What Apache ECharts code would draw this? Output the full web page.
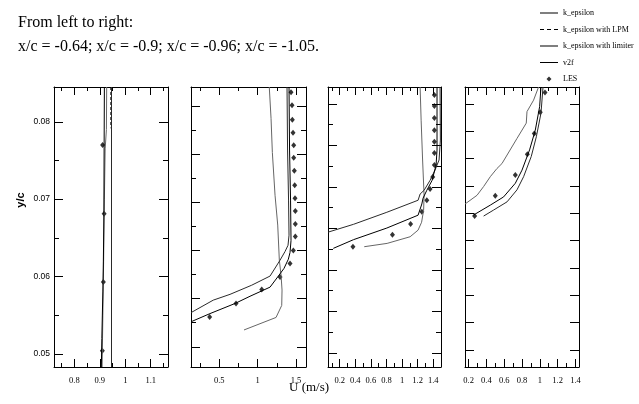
<!DOCTYPE html>
<html>
<head>
<meta charset="utf-8">
<script src="https://cdn.jsdelivr.net/npm/echarts@6/dist/echarts.min.js"></script>
<style>
html, body { margin: 0; padding: 0; background: #fff; }
#chart { width: 639px; height: 404px; }
</style>
</head>
<body>
<div id="chart"></div>
<script>
// panel 1 : x/c = -0.64   ([U, y/c])
var p1KEps    = [[0.918,0.0845],[0.917,0.077],[0.916,0.068],[0.914,0.062],[0.912,0.058],[0.908,0.052],[0.906,0.0483]];
var p1Lpm     = [[0.9435,0.0845],[0.9435,0.0795],[0.946,0.079],[0.946,0.0483]];
var p1Limiter = [[0.946,0.0845],[0.946,0.0483]];
var p1V2f     = [[0.927,0.0845],[0.926,0.079],[0.921,0.0765],[0.918,0.070],[0.915,0.062],[0.912,0.055],[0.909,0.0483]];
var p1Les     = [[0.911,0.0770],[0.917,0.0681],[0.914,0.0593],[0.910,0.0504]];

// panel 2 : x/c = -0.9
var p2KEps    = [[1.409,0.0840],[1.416,0.0709],[1.429,0.0605],[1.435,0.0521],[1.422,0.0496],[1.400,0.0482],[1.344,0.0463],[1.270,0.0447],[1.162,0.0424],[0.901,0.0405],[0.706,0.0390],[0.380,0.0369],[0.133,0.0352]];
var p2Limiter = [[1.383,0.0840],[1.390,0.0709],[1.403,0.0605],[1.409,0.0532],[1.396,0.0511],[1.357,0.0498],[1.292,0.0480],[1.162,0.0447],[0.923,0.0428],[0.641,0.0409],[0.423,0.0397],[0.133,0.0371]];
var p2V2f     = [[1.152,0.0840],[1.175,0.0775],[1.192,0.0704],[1.227,0.0615],[1.262,0.0553],[1.283,0.0480],[1.305,0.0449],[1.318,0.0418],[1.314,0.0386],[1.240,0.0361],[0.823,0.0335]];
var p2Les     = [[1.435,0.0829],[1.448,0.0802],[1.452,0.0772],[1.461,0.0745],[1.470,0.0719],[1.470,0.0693],[1.478,0.0666],[1.483,0.0636],[1.487,0.0609],[1.491,0.0582],[1.491,0.0555],[1.491,0.0529],[1.465,0.0500],[1.422,0.0473],[1.292,0.0445],[1.054,0.0419],[0.719,0.0390],[0.376,0.0362]];

// panel 3 : x/c = -0.96
var p3KEps    = [[1.449,0.0841],[1.449,0.0689],[1.437,0.0653],[1.386,0.0616],[1.318,0.0592],[1.270,0.0573],[1.254,0.0559],[1.206,0.0532],[0.805,0.0501],[0.378,0.0473],[0.118,0.0452]];
var p3Limiter = [[1.488,0.0841],[1.492,0.0713],[1.475,0.0665],[1.424,0.0641],[1.360,0.0616],[1.283,0.0592],[1.232,0.0583],[1.206,0.0568],[0.805,0.0539],[0.378,0.0510],[0.05,0.0491]];
var p3V2f     = [[1.232,0.0841],[1.245,0.0761],[1.264,0.0665],[1.283,0.0580],[1.277,0.0544],[1.251,0.0515],[1.206,0.0496],[1.104,0.0480],[0.809,0.0464],[0.515,0.0456]];
var p3Les     = [[1.415,0.0822],[1.415,0.0795],[1.415,0.0766],[1.415,0.0737],[1.415,0.0709],[1.415,0.0682],[1.415,0.0653],[1.394,0.0624],[1.360,0.0595],[1.318,0.0568],[1.254,0.0540],[1.110,0.0511],[0.877,0.0485],[0.370,0.0456]];

// panel 4 : x/c = -1.05
var p4KEps    = [[1.013,0.0831],[0.998,0.0795],[0.949,0.0752],[0.885,0.0716],[0.800,0.0679],[0.725,0.0655],[0.593,0.0630],[0.444,0.0615],[0.257,0.0597]];
var p4Limiter = [[1.036,0.0831],[1.013,0.0783],[0.961,0.0740],[0.904,0.0704],[0.818,0.0667],[0.744,0.0643],[0.632,0.0621],[0.481,0.0606],[0.369,0.0595]];
var p4V2f     = [[0.986,0.0831],[0.930,0.0807],[0.856,0.0786],[0.848,0.0765],[0.744,0.0737],[0.575,0.0691],[0.519,0.0682],[0.444,0.0667],[0.369,0.0649],[0.295,0.0633],[0.160,0.0617]];
var p4Les     = [[1.058,0.0821],[1.005,0.0785],[0.938,0.0746],[0.860,0.0708],[0.725,0.0670],[0.500,0.0632],[0.268,0.0595]];

// tick values
var p1XMajor = [0.8, 0.9, 1, 1.1];
var p1XMinor = [0.75, 0.85, 0.95, 1.05, 1.15];
var p1YMajor = [0.05, 0.06, 0.07, 0.08];
var p1YMinor = [0.055, 0.065, 0.075];
var p2XMajor = [0.5, 1, 1.5];
var p2XMinor = [0.25, 0.75, 1.25];
var p2YMajor = [0.03, 0.04, 0.05, 0.06, 0.07, 0.08];
var p2YMinor = [0.035, 0.045, 0.055, 0.065, 0.075];
var p3XMajor = [0.2, 0.4, 0.6, 0.8, 1, 1.2, 1.4];
var p3XMinor = [0.1, 0.3, 0.5, 0.7, 0.9, 1.1, 1.3];
var p3YMajor = [0.02, 0.03, 0.04, 0.05, 0.06, 0.07, 0.08];
var p3YMinor = [0.025, 0.035, 0.045, 0.055, 0.065, 0.075];
var p4XMajor = [0.2, 0.4, 0.6, 0.8, 1, 1.2, 1.4];
var p4XMinor = [0.3, 0.5, 0.7, 0.9, 1.1, 1.3];
var p4YMajor = [0.035, 0.04, 0.045, 0.05, 0.055, 0.06, 0.065, 0.07, 0.075, 0.08];
var p4YMinor = [];

var panels = [
  {left: 54,  width: 114, xMin: 0.72,  xMax: 1.168, yMin: 0.0483, yMax: 0.0845,
   xMajor: p1XMajor, xMinor: p1XMinor, yMajor: p1YMajor, yMinor: p1YMinor, yLabels: true,
   kEps: p1KEps, lpm: p1Lpm, limiter: p1Limiter, v2f: p1V2f, les: p1Les},
  {left: 191, width: 115, xMin: 0.133, xMax: 1.63,  yMin: 0.0258, yMax: 0.0840,
   xMajor: p2XMajor, xMinor: p2XMinor, yMajor: p2YMajor, yMinor: p2YMinor,
   kEps: p2KEps, limiter: p2Limiter, v2f: p2V2f, les: p2Les},
  {left: 328, width: 113, xMin: 0.05,  xMax: 1.5,   yMin: 0.0166, yMax: 0.0841,
   xMajor: p3XMajor, xMinor: p3XMinor, yMajor: p3YMajor, yMinor: p3YMinor,
   kEps: p3KEps, limiter: p3Limiter, v2f: p3V2f, les: p3Les},
  {left: 465, width: 114, xMin: 0.16,  xMax: 1.44,  yMin: 0.0319, yMax: 0.0831,
   xMajor: p4XMajor, xMinor: p4XMinor, yMajor: p4YMajor, yMinor: p4YMinor,
   kEps: p4KEps, limiter: p4Limiter, v2f: p4V2f, les: p4Les}
];

var xLabelStyle = {margin: 9, fontSize: 8.5, fontFamily: 'Liberation Serif', color: '#000'};
var yLabelStyle = {margin: 4, fontSize: 8.5, fontFamily: 'Liberation Sans', color: '#000'};

function tickAxis(gi, pos, min, max, ticks, len, frame, labels, labelStyle) {
  return {
    type: 'value', gridIndex: gi, position: pos, min: min, max: max,
    splitLine: {show: false},
    axisLine: {show: frame, onZero: false, lineStyle: {color: '#000', width: 1}},
    axisTick: {show: ticks.length > 0, inside: true, length: len, customValues: ticks, lineStyle: {color: '#000', width: 1}},
    axisLabel: labels ? Object.assign({show: true, customValues: labels}, labelStyle) : {show: false},
    axisPointer: {show: false}
  };
}

function lineSeries(name, data, ai, color, dash) {
  return {
    type: 'line', name: name, data: data, xAxisIndex: ai, yAxisIndex: ai,
    symbol: 'none', showSymbol: false, silent: true,
    lineStyle: {color: color, width: 1, type: dash ? [3, 2] : 'solid'},
    itemStyle: {color: color}
  };
}

var grids = [], xAxes = [], yAxes = [], series = [];
panels.forEach(function (p, i) {
  grids.push({left: p.left, top: 87, width: p.width, height: 280});
  xAxes.push(tickAxis(i, 'bottom', p.xMin, p.xMax, p.xMajor, 8, true, p.xMajor, xLabelStyle));
  xAxes.push(tickAxis(i, 'bottom', p.xMin, p.xMax, p.xMinor, 4, false));
  xAxes.push(tickAxis(i, 'top', p.xMin, p.xMax, p.xMajor, 8, true));
  xAxes.push(tickAxis(i, 'top', p.xMin, p.xMax, p.xMinor, 4, false));
  yAxes.push(tickAxis(i, 'left', p.yMin, p.yMax, p.yMajor, 9, true, p.yLabels ? p.yMajor : null, yLabelStyle));
  yAxes.push(tickAxis(i, 'left', p.yMin, p.yMax, p.yMinor, 5, false));
  yAxes.push(tickAxis(i, 'right', p.yMin, p.yMax, p.yMajor, 9, true));
  yAxes.push(tickAxis(i, 'right', p.yMin, p.yMax, p.yMinor, 5, false));
  var ai = i * 4;
  series.push(lineSeries('v2f', p.v2f, ai, '#666'));
  if (p.lpm) series.push(lineSeries('k_epsilon with LPM', p.lpm, ai, '#000', true));
  series.push(lineSeries('k_epsilon with limiter', p.limiter, ai, '#2a2a2a'));
  series.push(lineSeries('k_epsilon', p.kEps, ai, '#000'));
  series.push({
    type: 'scatter', name: 'LES', data: p.les, xAxisIndex: ai, yAxisIndex: ai,
    symbol: 'diamond', symbolSize: [5, 6], silent: true,
    itemStyle: {color: '#000'}
  });
});

var corners = ' M0,0h0.1v0.1h-0.1z M17.9,8.9h0.1v0.1h-0.1z';
var lineIcon = 'path://M0,4h18v1h-18z' + corners;
var dashIcon = 'path://M0,4h4v1h-4z M7,4h4v1h-4z M14,4h4v1h-4z' + corners;
var diamondIcon = 'path://M9,2L11.5,4.5L9,7L6.5,4.5z' + corners;

var option = {
  animation: false,
  backgroundColor: '#fff',
  title: [
    {text: 'From left to right:\nx/c = -0.64; x/c = -0.9; x/c = -0.96; x/c = -1.05.',
     left: 18, top: 11, padding: 0,
     textStyle: {fontFamily: 'Liberation Serif', fontSize: 16, fontWeight: 'normal', color: '#000', lineHeight: 24}},
    {text: 'U (m/s)', left: 289, top: 381, padding: 0,
     textStyle: {fontFamily: 'Liberation Serif', fontSize: 13, fontWeight: 'normal', color: '#000'}}
  ],
  legend: {
    orient: 'vertical', left: 540, top: 7.5, padding: 0,
    itemWidth: 18, itemHeight: 9, itemGap: 5.5, selectedMode: false,
    itemStyle: {borderWidth: 0},
    textStyle: {fontFamily: 'Liberation Serif', fontSize: 8, color: '#000', lineHeight: 11},
    data: [
      {name: 'k_epsilon', icon: lineIcon, itemStyle: {color: '#000'}},
      {name: 'k_epsilon with LPM', icon: dashIcon, itemStyle: {color: '#000'}},
      {name: 'k_epsilon with limiter', icon: lineIcon, itemStyle: {color: '#000'}},
      {name: 'v2f', icon: lineIcon, itemStyle: {color: '#000'}},
      {name: 'LES', icon: diamondIcon, itemStyle: {color: '#000'}}
    ]
  },
  graphic: [
    {type: 'text', x: 21, y: 200, rotation: Math.PI / 2,
     style: {text: 'y/c', fontFamily: 'Liberation Sans', fontSize: 11, fontWeight: 'bold', fill: '#000',
             textAlign: 'center', textVerticalAlign: 'middle'}}
  ],
  grid: grids,
  xAxis: xAxes,
  yAxis: yAxes,
  series: series
};

var chart = echarts.init(document.getElementById('chart'), null, {renderer: 'canvas'});
chart.setOption(option);
</script>
</body>
</html>
